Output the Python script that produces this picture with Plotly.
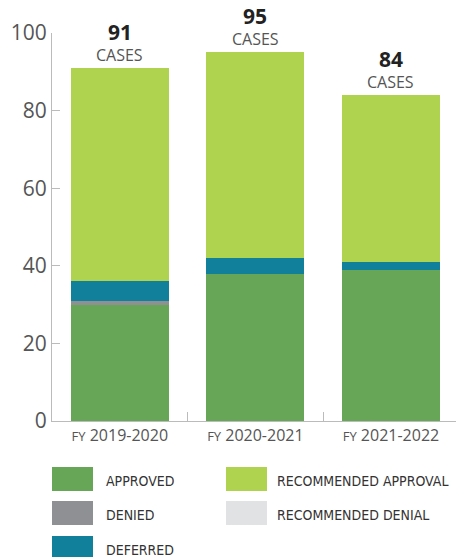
import plotly.graph_objects as go

# Case outcomes by fiscal year
years = ["FY 2019-2020", "FY 2020-2021", "FY 2021-2022"]
approved = [30, 38, 39]
denied = [1, 0, 0]
deferred = [5, 4, 2]
recommended_approval = [55, 53, 43]
recommended_denial = [0, 0, 0]
totals = [91, 95, 84]

series = [
    ("APPROVED", approved, "#66A656"),
    ("DENIED", denied, "#8E9093"),
    ("DEFERRED", deferred, "#11819B"),
    ("RECOMMENDED APPROVAL", recommended_approval, "#AFD24F"),
    ("RECOMMENDED DENIAL", recommended_denial, "#E1E2E3"),
]

tick_text = [
    "<span style='font-size:13px'>FY</span> " + y.split(" ")[1] for y in years
]

fig = go.Figure()
for name, vals, color in series:
    fig.add_trace(go.Bar(
        x=years, y=vals, name=name,
        marker=dict(color=color, line=dict(width=0)),
        showlegend=False,
    ))

# Totals above each bar
for yr, tot in zip(years, totals):
    fig.add_annotation(x=yr, y=tot, text="CASES", showarrow=False,
                       yanchor="bottom", yshift=0,
                       font=dict(family="Open Sans", size=16, color="#555555"))
    fig.add_annotation(x=yr, y=tot, text=f"<b>{tot}</b>", showarrow=False,
                       yanchor="bottom", yshift=20,
                       font=dict(family="Open Sans", size=21, color="#222222"))

# Legend swatches and labels, laid out in pixel terms
W, H = 456, 557
L, R, T, B = 52, 0, 33, 136
pw, ph = W - L - R, H - T - B


def px_x(p):
    return (p - L) / pw


def px_y(p):
    return (H - B - p) / ph


# (series index, row, swatch left, text left)
legend_layout = [
    (0, 0, 52, 104), (1, 1, 52, 104), (2, 2, 52, 104),
    (3, 0, 226, 275), (4, 1, 226, 275),
]
row_tops = [467, 501, 536]
for idx, row, sx, tx in legend_layout:
    name, _, color = series[idx]
    top = row_tops[row]
    fig.add_shape(type="rect", xref="paper", yref="paper",
                  x0=px_x(sx), x1=px_x(sx + 41),
                  y0=px_y(top + 24), y1=px_y(top),
                  fillcolor=color, line=dict(width=0))
    fig.add_annotation(xref="paper", yref="paper",
                       x=px_x(tx), y=px_y(top + 14), text=name,
                       showarrow=False, xanchor="left", yanchor="middle",
                       font=dict(family="DejaVu Sans Condensed, Liberation Sans, sans-serif",
                                 size=14, color="#333333"))

fig.update_layout(
    barmode="stack",
    bargap=0.277,
    width=W, height=H,
    margin=dict(l=L, r=R, t=T, b=B, pad=0),
    plot_bgcolor="white",
    paper_bgcolor="white",
    xaxis=dict(
        range=[-0.5, 2.48],
        tickvals=years, ticktext=tick_text,
        tickson="boundaries", ticks="inside", ticklen=9,
        tickcolor="#BBBBBB", showline=True, linecolor="#BBBBBB",
        tickfont=dict(family="Open Sans", size=16, color="#555555"),
        showgrid=False, zeroline=False, fixedrange=True,
    ),
    yaxis=dict(
        range=[0, 100], tickvals=[0, 20, 40, 60, 80, 100],
        ticks="inside", ticklen=8, tickcolor="#BBBBBB",
        showline=True, linecolor="#BBBBBB",
        tickfont=dict(family="Open Sans", size=21, color="#555555"),
        showgrid=False, zeroline=False, fixedrange=True,
    ),
)

fig.write_html("out.html", config={"displayModeBar": False})
